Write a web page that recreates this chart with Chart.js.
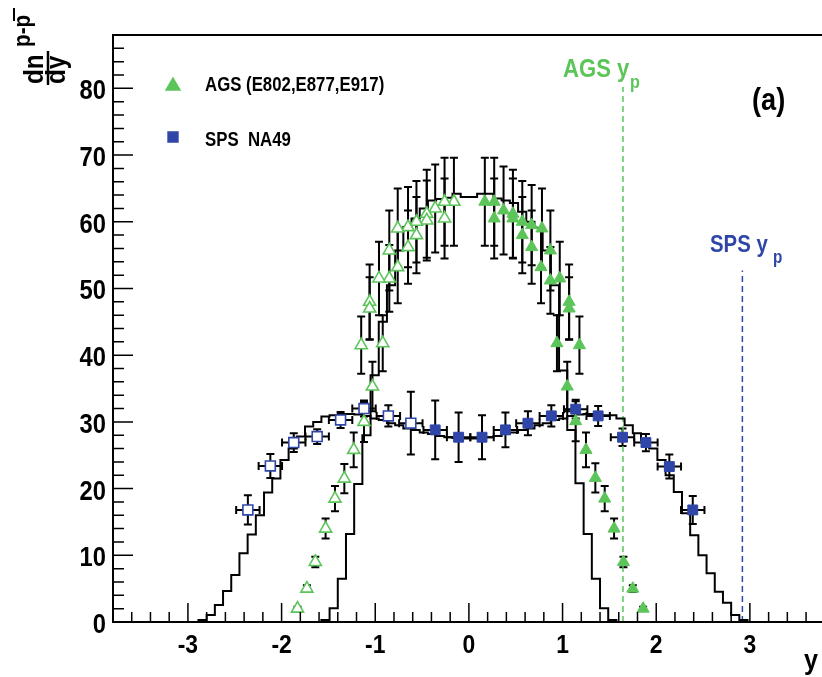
<!DOCTYPE html>
<html>
<head>
<meta charset="utf-8">
<script src="https://cdn.jsdelivr.net/npm/chart.js@4.4.1/dist/chart.umd.min.js"></script>
<style>
  html, body { margin: 0; padding: 0; background: #fff; overflow: hidden; }
  canvas { display: block; }
</style>
</head>
<body>
<canvas id="chart" width="822" height="677"></canvas>
<script>
// AGS (E802,E877,E917): measured (filled, y > 0) and reflected (open, y < 0)
const agsY   = [0.17, 0.27, 0.27, 0.37, 0.47, 0.47, 0.57, 0.57, 0.67, 0.67, 0.78, 0.77, 0.87, 0.87, 0.97, 1.07, 1.07, 0.94, 1.18, 1.05, 1.14, 1.25, 1.35, 1.45, 1.55, 1.65, 1.75, 1.86];
const agsV   = [63.0, 63.0, 60.5, 61.7, 61.2, 60.5, 60.0, 58.0, 59.5, 56.2, 59.0, 53.2, 55.7, 51.2, 51.5, 48.0, 47.0, 41.8, 41.5, 35.3, 30.1, 25.8, 21.6, 18.5, 14.0, 9.0, 5.0, 2.0];
const agsErr = [6.6, 6.6, 6.0, 6.6, 6.6, 6.0, 6.1, 5.7, 6.0, 5.5, 6.0, 5.4, 6.0, 5.0, 5.5, 5.6, 4.7, 4.2, 4.3, 3.7, 3.0, 2.6, 2.2, 1.9, 1.5, 0.8, 0.5, 0.3];

const agsNegY   = [-0.16, -0.26, -0.26, -0.36, -0.45, -0.45, -0.56, -0.56, -0.65, -0.65, -0.76, -0.76, -0.85, -0.85, -0.96, -1.06, -1.06, -0.92, -1.15, -1.03, -1.12, -1.23, -1.33, -1.43, -1.53, -1.64, -1.73, -1.83];
const agsNegV   = [63.0, 63.0, 60.5, 62.0, 61.2, 60.2, 60.0, 58.0, 59.2, 56.2, 59.0, 53.2, 55.7, 51.5, 51.5, 48.0, 47.0, 41.8, 41.5, 35.3, 30.0, 25.8, 21.5, 18.5, 14.0, 9.0, 5.0, 2.0];
const agsNegErr = [6.6, 6.6, 6.0, 6.6, 6.6, 6.0, 6.1, 5.7, 6.0, 5.5, 6.0, 5.4, 6.0, 5.0, 5.5, 5.6, 4.7, 4.2, 4.3, 3.7, 3.0, 2.6, 2.2, 1.9, 1.5, 0.8, 0.5, 0.3];

// SPS NA49
const spsY   = [-0.36, -0.11, 0.14, 0.39, 0.63, 0.88, 1.14, 1.38, 1.64, 1.89, 2.14, 2.39];
const spsV   = [28.8, 27.7, 27.7, 28.8, 29.8, 30.9, 31.9, 30.9, 27.7, 26.9, 23.3, 16.8];
const spsErr = [4.4, 3.7, 3.3, 2.6, 1.8, 1.6, 1.4, 1.5, 1.3, 1.3, 1.8, 2.1];

const spsNegY   = [-0.62, -0.86, -1.12, -1.37, -1.62, -1.87, -2.12, -2.36];
const spsNegV   = [29.8, 30.9, 32.0, 30.3, 27.8, 26.9, 23.4, 16.8];
const spsNegErr = [4.7, 1.6, 1.2, 1.2, 1.1, 1.4, 1.8, 2.2];
const spsHalfBin = 0.125;

// model histograms (black steps)
const modelBin = 0.0875;
const agsModelStart = -1.575;
const agsModel = [0.3, 2.05, 6.5, 13.2, 20.7, 28.0, 37.0, 45.0, 50.5, 55.7, 59.2, 60.5, 62.0, 63.2, 63.4, 63.6, 64.2, 63.7,
                  63.7, 64.2, 64.2, 63.5, 63.2, 62.8, 61.5, 60.0, 59.1, 55.7, 50.5, 37.7, 28.8, 20.8, 13.2, 6.5, 2.05, 0.3];
const spsModelStart = -2.8875;
const spsModel = [0.3, 1.05, 2.55, 4.65, 7.05, 10.3, 13.1, 16.0, 19.4, 21.5, 24.3, 26.0, 27.8, 29.3, 30.0, 30.8, 31.0,
                  31.2, 31.2, 31.1, 30.9, 30.5, 30.3, 29.8, 29.5, 29.0, 28.8, 28.4, 28.2, 27.9, 27.7, 27.6, 27.5,
                  27.5, 27.6, 27.7, 27.9, 28.2, 28.4, 28.8, 29.0, 29.5, 29.8, 30.3, 30.5, 30.9, 31.1, 31.2, 31.2, 31.0,
                  31.0, 30.5, 29.5, 28.3, 27.3, 26.0, 24.3, 22.0, 19.5, 16.3, 13.0, 10.0, 7.3, 4.55, 2.9, 1.05, 0.3];

// beam rapidities
const agsYp = 1.645, agsYpTop = 80.2;
const spsYp = 2.92,  spsYpTop = 52.7;

const xTicks = [-3, -2, -1, 0, 1, 2, 3];
const yTicks = [0, 10, 20, 30, 40, 50, 60, 70, 80];

const green = '#5cc55a';
const blue = '#2f46a8';
const FONT = '"Liberation Sans", Arial, Helvetica, sans-serif';

function pts(xs, vs) { return xs.map((x, i) => ({ x: x, y: vs[i] })); }

function stepPoints(start, values) {
  const out = [{ x: start - modelBin, y: 0 }];
  values.forEach((v, i) => out.push({ x: start + i * modelBin, y: v }));
  out.push({ x: start + values.length * modelBin, y: 0 });
  out.push({ x: start + (values.length + 1) * modelBin, y: 0 });
  return out;
}

function txt(ctx, s, x, y, size, color, align, sx) {
  ctx.save();
  ctx.translate(x, y);
  ctx.scale(sx || 0.86, 1);
  ctx.font = 'bold ' + size + 'px ' + FONT;
  ctx.fillStyle = color;
  ctx.textAlign = align || 'left';
  ctx.textBaseline = 'alphabetic';
  ctx.fillText(s, 0, 0);
  ctx.restore();
}

const ink = {
  id: 'ink',
  beforeDatasetsDraw(chart) {
    const { ctx, scales: { x, y } } = chart;
    ctx.save();
    ctx.strokeStyle = '#000';
    ctx.lineWidth = 2;
    const cap = 4;
    function vbar(xv, v, e) {
      const px = x.getPixelForValue(xv), t = y.getPixelForValue(v + e), b = y.getPixelForValue(Math.max(0, v - e));
      ctx.beginPath();
      ctx.moveTo(px, t); ctx.lineTo(px, b);
      ctx.moveTo(px - cap, t); ctx.lineTo(px + cap, t);
      ctx.moveTo(px - cap, b); ctx.lineTo(px + cap, b);
      ctx.stroke();
    }
    function hbar(xv, v, e) {
      const py = y.getPixelForValue(v), l = x.getPixelForValue(xv - e), r = x.getPixelForValue(xv + e);
      ctx.beginPath();
      ctx.moveTo(l, py); ctx.lineTo(r, py);
      ctx.moveTo(l, py - cap); ctx.lineTo(l, py + cap);
      ctx.moveTo(r, py - cap); ctx.lineTo(r, py + cap);
      ctx.stroke();
    }
    agsY.forEach((xv, i) => vbar(xv, agsV[i], agsErr[i]));
    agsNegY.forEach((xv, i) => vbar(xv, agsNegV[i], agsNegErr[i]));
    spsY.forEach((xv, i) => { vbar(xv, spsV[i], spsErr[i]); hbar(xv, spsV[i], spsHalfBin); });
    spsNegY.forEach((xv, i) => { vbar(xv, spsNegV[i], spsNegErr[i]); hbar(xv, spsNegV[i], spsHalfBin); });
    ctx.restore();
  },
  afterDraw(chart) {
    const { ctx, chartArea: a, scales: { x, y } } = chart;
    const W = chart.width;
    ctx.save();
    // frame
    ctx.strokeStyle = '#000';
    ctx.lineWidth = 2;
    ctx.beginPath();
    ctx.moveTo(W, a.top); ctx.lineTo(a.left, a.top); ctx.lineTo(a.left, a.bottom); ctx.lineTo(W, a.bottom);
    ctx.stroke();
    // ticks
    ctx.lineWidth = 1.5;
    ctx.beginPath();
    for (let v = 0; v <= 88; v += 2) {
      const py = y.getPixelForValue(v);
      const len = v % 10 === 0 ? 20 : 11;
      ctx.moveTo(a.left, py); ctx.lineTo(a.left + len, py);
    }
    for (let i = -19; i <= 18; i++) {
      const px = x.getPixelForValue(i * 0.2);
      const len = i % 5 === 0 ? 19 : 10;
      ctx.moveTo(px, a.bottom); ctx.lineTo(px, a.bottom - len);
    }
    ctx.stroke();
    // tick labels
    yTicks.forEach(v => txt(ctx, String(v), 106, y.getPixelForValue(v) + 11, 27, '#000', 'right', 0.88));
    xTicks.forEach(v => txt(ctx, String(v), x.getPixelForValue(v), 653, 26, '#000', 'center', 0.88));
    // x title
    txt(ctx, 'y', 818, 669, 28, '#000', 'right', 0.9);
    // y title  dn/dy with superscript p-pbar, rotated
    ctx.save();
    ctx.rotate(-Math.PI / 2);
    txt(ctx, 'dn', -84, 43, 27, '#000', 'left', 0.9);
    txt(ctx, 'dy', -84, 65, 27, '#000', 'left', 0.9);
    ctx.strokeStyle = '#000';
    ctx.lineWidth = 2.5;
    ctx.beginPath(); ctx.moveTo(-85, 48); ctx.lineTo(-51, 48); ctx.stroke();
    txt(ctx, 'p-p', -47, 30, 23, '#000', 'left', 0.9);
    ctx.lineWidth = 2;
    ctx.beginPath(); ctx.moveTo(-21, 14); ctx.lineTo(-8, 14); ctx.stroke();
    ctx.restore();
    // legend
    ctx.fillStyle = green; ctx.strokeStyle = green;
    Chart.helpers.drawPoint(ctx, { pointStyle: 'triangle', radius: 8, borderWidth: 1, rotation: 0 }, 173, 86);
    txt(ctx, 'AGS (E802,E877,E917)', 205, 91, 20, '#000', 'left', 0.84);
    ctx.fillStyle = blue; ctx.strokeStyle = blue;
    Chart.helpers.drawPoint(ctx, { pointStyle: 'rect', radius: 7, borderWidth: 1, rotation: 0 }, 173, 137);
    txt(ctx, 'SPS  NA49', 205, 146, 20, '#000', 'left', 0.84);
    // annotations
    txt(ctx, 'AGS y', 563, 77, 26, green, 'left', 0.85);
    txt(ctx, 'p', 630, 88, 19, green, 'left', 0.85);
    txt(ctx, 'SPS y', 710, 252, 24, blue, 'left', 0.85);
    txt(ctx, 'p', 773, 263, 18, blue, 'left', 0.85);
    txt(ctx, '(a)', 752, 110, 32, '#000', 'left', 0.85);
    ctx.restore();
  }
};

new Chart(document.getElementById('chart'), {
  type: 'scatter',
  data: {
    datasets: [
      { label: 'AGS model', data: stepPoints(agsModelStart, agsModel), showLine: true, stepped: true,
        borderColor: '#000', borderWidth: 2, pointRadius: 0, order: 3 },
      { label: 'SPS model', data: stepPoints(spsModelStart, spsModel), showLine: true, stepped: true,
        borderColor: '#000', borderWidth: 2, pointRadius: 0, order: 3 },
      { label: 'AGS yp', data: [{ x: agsYp, y: 0 }, { x: agsYp, y: agsYpTop }], showLine: true,
        borderColor: green, borderWidth: 1.5, borderDash: [6, 4], pointRadius: 0, order: 4 },
      { label: 'SPS yp', data: [{ x: spsYp, y: 0 }, { x: spsYp, y: spsYpTop }], showLine: true,
        borderColor: blue, borderWidth: 1.5, borderDash: [6, 4], pointRadius: 0, order: 4 },
      { label: 'AGS reflected', data: pts(agsNegY, agsNegV), pointStyle: 'triangle', pointRadius: 7,
        pointBackgroundColor: '#fff', pointBorderColor: green, pointBorderWidth: 1.6, order: 1 },
      { label: 'AGS (E802,E877,E917)', data: pts(agsY, agsV), pointStyle: 'triangle', pointRadius: 7,
        pointBackgroundColor: green, pointBorderColor: green, pointBorderWidth: 1, order: 1 },
      { label: 'SPS reflected', data: pts(spsNegY, spsNegV), pointStyle: 'rect', pointRadius: 7,
        pointBackgroundColor: '#fff', pointBorderColor: blue, pointBorderWidth: 1.6, order: 1 },
      { label: 'SPS NA49', data: pts(spsY, spsV), pointStyle: 'rect', pointRadius: 7,
        pointBackgroundColor: blue, pointBorderColor: blue, pointBorderWidth: 1, order: 1 }
    ]
  },
  options: {
    responsive: false,
    animation: false,
    devicePixelRatio: 1,
    events: [],
    layout: { autoPadding: false, padding: { left: 113, top: 35, right: 0, bottom: 55 } },
    plugins: { legend: { display: false }, tooltip: { enabled: false } },
    scales: {
      x: { type: 'linear', min: -3.8, max: 3.77, display: false },
      y: { type: 'linear', min: 0, max: 88, display: false }
    }
  },
  plugins: [ink]
});
</script>
</body>
</html>
